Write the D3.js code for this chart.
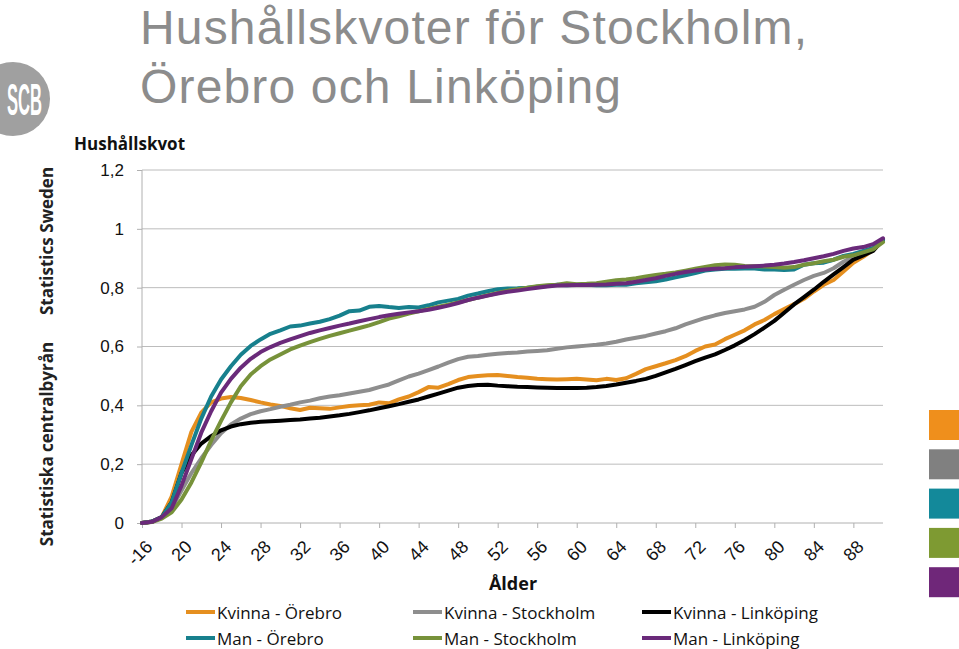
<!DOCTYPE html>
<html>
<head>
<meta charset="utf-8">
<title>Hushållskvoter</title>
<script src="https://cdn.jsdelivr.net/npm/d3@7"></script>
<style>
html, body {
  margin: 0;
  padding: 0;
  background: #ffffff;
}
svg {
  display: block;
  font-family: "Open Sans", "Noto Sans", sans-serif;
}
.title {
  font-family: "Liberation Sans", Arial, sans-serif;
  fill: #8c8c8c;
  font-size: 48px;
}
.axis text {
  font-size: 17px;
  fill: #111;
}
.grid line {
  stroke: #bcbcbc;
  stroke-width: 1px;
}
.series {
  fill: none;
  stroke-width: 4px;
  stroke-linejoin: round;
  stroke-linecap: round;
}
</style>
</head>
<body>
<svg width="959" height="649"></svg>
<script>
// categories: first is "-16", then every age up to 91
var ages = ["-16"].concat(d3.range(17, 92).map(String));
var tickLabels = ["-16", "20", "24", "28", "32", "36", "40", "44", "48", "52", "56", "60", "64", "68", "72", "76", "80", "84", "88"];
var yTicks = [0, 0.2, 0.4, 0.6, 0.8, 1, 1.2];

var seriesNames = ["Kvinna - Örebro", "Kvinna - Stockholm", "Kvinna - Linköping",
                   "Man - Örebro", "Man - Stockholm", "Man - Linköping"];
var seriesColors = ["#e58f1f", "#8e8e8e", "#000000", "#17808d", "#77923a", "#6a2a7a"];

var kvinnaOrebro = [0,
  0.005, 0.02, 0.09, 0.2, 0.31, 0.375, 0.41, 0.423, 0.428, 0.425,
  0.418, 0.41, 0.403, 0.398, 0.39, 0.384, 0.392, 0.39, 0.388, 0.393,
  0.398, 0.4, 0.402, 0.41, 0.407, 0.42, 0.43, 0.445, 0.462, 0.46,
  0.472, 0.486, 0.496, 0.5, 0.502, 0.503, 0.5, 0.496, 0.494, 0.49,
  0.489, 0.488, 0.489, 0.49, 0.488, 0.485, 0.49, 0.486, 0.492, 0.507,
  0.523, 0.533, 0.543, 0.554, 0.567, 0.585, 0.6, 0.607, 0.625, 0.64,
  0.655, 0.675, 0.69, 0.71, 0.727, 0.744, 0.762, 0.787, 0.81, 0.826,
  0.855, 0.885, 0.905, 0.928, 0.96];
var kvinnaStockholm = [0,
  0.005, 0.018, 0.05, 0.11, 0.17, 0.22, 0.265, 0.305, 0.335, 0.355,
  0.37, 0.38, 0.387, 0.395, 0.402, 0.41, 0.416, 0.424, 0.43, 0.434,
  0.44, 0.446, 0.452, 0.462, 0.471, 0.485, 0.498, 0.508, 0.52, 0.532,
  0.545, 0.557, 0.565, 0.568, 0.572, 0.575, 0.578, 0.58, 0.583, 0.585,
  0.587, 0.592, 0.597, 0.6, 0.603, 0.606, 0.61, 0.616, 0.624, 0.63,
  0.636, 0.644, 0.652, 0.662, 0.675, 0.686, 0.697, 0.706, 0.714, 0.72,
  0.726, 0.735, 0.752, 0.775, 0.793, 0.81, 0.826, 0.84, 0.85, 0.866,
  0.888, 0.905, 0.918, 0.932, 0.958];
var kvinnaLinkoping = [0,
  0.004, 0.02, 0.07, 0.17, 0.23, 0.27, 0.295, 0.315, 0.328, 0.336,
  0.341, 0.344, 0.346, 0.348, 0.35, 0.352, 0.355, 0.358, 0.362, 0.366,
  0.371, 0.377, 0.383, 0.39, 0.397, 0.404, 0.412, 0.42, 0.43, 0.44,
  0.45, 0.46, 0.466, 0.469, 0.47, 0.467, 0.465, 0.463, 0.462, 0.461,
  0.46, 0.459, 0.459, 0.459, 0.46, 0.462, 0.466, 0.471, 0.477, 0.483,
  0.49, 0.5, 0.512, 0.524, 0.537, 0.55, 0.562, 0.573, 0.588, 0.604,
  0.622, 0.642, 0.664, 0.687, 0.715, 0.743, 0.768, 0.793, 0.82, 0.845,
  0.87, 0.895, 0.91, 0.925, 0.963];
var manOrebro = [0,
  0.005, 0.02, 0.07, 0.17, 0.265, 0.355, 0.43, 0.488, 0.533, 0.572,
  0.602, 0.624, 0.643, 0.655, 0.668, 0.671, 0.678, 0.684, 0.693, 0.705,
  0.72, 0.722, 0.735, 0.738, 0.734, 0.731, 0.734, 0.733, 0.74, 0.75,
  0.756, 0.762, 0.773, 0.78, 0.788, 0.795, 0.797, 0.798, 0.8, 0.803,
  0.806, 0.81, 0.808, 0.81, 0.81, 0.808, 0.808, 0.81, 0.81, 0.815,
  0.818, 0.822, 0.828, 0.835, 0.842, 0.85, 0.858, 0.862, 0.864, 0.864,
  0.865, 0.865, 0.862, 0.862, 0.86, 0.862, 0.878, 0.883, 0.885, 0.895,
  0.908, 0.915, 0.925, 0.935, 0.962];
var manStockholm = [0,
  0.003, 0.015, 0.036, 0.08, 0.138, 0.206, 0.28, 0.347, 0.41, 0.465,
  0.505, 0.533, 0.556, 0.573, 0.59, 0.603, 0.615, 0.626, 0.636, 0.645,
  0.654, 0.663, 0.672, 0.683, 0.695, 0.703, 0.712, 0.72, 0.728, 0.735,
  0.742, 0.75, 0.758, 0.766, 0.774, 0.782, 0.79, 0.795, 0.8, 0.805,
  0.808, 0.81, 0.815, 0.812, 0.813, 0.815, 0.82, 0.825, 0.828, 0.832,
  0.838, 0.843, 0.847, 0.852, 0.858, 0.864, 0.87, 0.876, 0.879, 0.878,
  0.874, 0.873, 0.872, 0.87, 0.868, 0.87, 0.878, 0.883, 0.89, 0.895,
  0.905, 0.91, 0.92, 0.93, 0.955];
var manLinkoping = [0,
  0.004, 0.02, 0.05, 0.127, 0.217, 0.307, 0.38, 0.443, 0.49, 0.528,
  0.558, 0.581, 0.598, 0.612, 0.624, 0.635, 0.646, 0.655, 0.663, 0.671,
  0.678, 0.686, 0.693, 0.7, 0.706, 0.711, 0.716, 0.72, 0.725, 0.732,
  0.739, 0.748, 0.758, 0.766, 0.773, 0.78, 0.786, 0.79, 0.795, 0.8,
  0.804, 0.807, 0.808, 0.809, 0.809, 0.81, 0.811, 0.813, 0.815, 0.82,
  0.826, 0.832, 0.84, 0.847, 0.853, 0.858, 0.862, 0.864, 0.866, 0.869,
  0.871, 0.873, 0.875, 0.878, 0.882, 0.887, 0.893, 0.9, 0.907, 0.915,
  0.925, 0.933, 0.938, 0.948, 0.968];

var seriesValues = [kvinnaOrebro, kvinnaStockholm, kvinnaLinkoping, manOrebro, manStockholm, manLinkoping];

// colour blocks at the right edge of the slide
var blockColors = ["#ef8f1c", "#808080", "#13899a", "#7e9a32", "#6f2779"];

var svg = d3.select("svg");

// title, stretched a little to the width of the original
svg.append("text").attr("class", "title").attr("x", 140).attr("y", 44)
  .attr("textLength", 667).attr("lengthAdjust", "spacing")
  .text("Hushållskvoter för Stockholm,");
svg.append("text").attr("class", "title").attr("x", 140).attr("y", 103)
  .attr("textLength", 481).attr("lengthAdjust", "spacing")
  .text("Örebro och Linköping");

// SCB logo
svg.append("circle").attr("cx", 13).attr("cy", 99).attr("r", 37).attr("fill", "#a0a0a0");
svg.append("text")
  .attr("x", 7).attr("y", 115)
  .attr("textLength", 35).attr("lengthAdjust", "spacingAndGlyphs")
  .style("font-family", "'Liberation Sans Narrow', 'Liberation Sans', sans-serif")
  .style("font-size", "44px").style("font-weight", "bold")
  .attr("fill", "#ffffff")
  .text("SCB");

// vertical side text
svg.append("text")
  .attr("transform", "translate(53,444) rotate(-90)")
  .attr("text-anchor", "middle")
  .style("font-size", "17px").style("font-weight", "bold").attr("fill", "#222")
  .text("Statistiska centralbyrån");
svg.append("text")
  .attr("transform", "translate(53,241) rotate(-90)")
  .attr("text-anchor", "middle")
  .style("font-size", "17px").style("font-weight", "bold").attr("fill", "#222")
  .text("Statistics Sweden");

// colour blocks
svg.selectAll("rect.block")
  .data(blockColors)
  .enter().append("rect")
    .attr("class", "block")
    .attr("x", 929)
    .attr("y", function(d, i) { return 410 + i * 39.3; })
    .attr("width", 32)
    .attr("height", 30)
    .attr("fill", function(d) { return d; });

var x = d3.scalePoint().domain(ages).range([142, 883]);
var y = d3.scaleLinear().domain([0, 1.2]).range([523, 170]);

// gridlines
svg.append("g").attr("class", "grid")
  .selectAll("line")
  .data(yTicks.slice(1))
  .enter().append("line")
    .attr("x1", 142).attr("x2", 883)
    .attr("y1", function(d) { return y(d); })
    .attr("y2", function(d) { return y(d); });

// y axis
var yAxis = svg.append("g").attr("class", "axis")
  .attr("transform", "translate(142,0)")
  .call(d3.axisLeft(y).tickValues(yTicks).tickSize(5).tickPadding(13)
    .tickFormat(function(d) { return d3.format("~g")(d).replace(".", ","); }));
yAxis.selectAll("line, path").attr("stroke", "#b0b0b0");
yAxis.select(".domain").attr("d", "M0," + y(1.2) + "V" + y(0));

// x axis
var xAxis = svg.append("g").attr("class", "axis")
  .attr("transform", "translate(0,523)")
  .call(d3.axisBottom(x).tickValues(tickLabels).tickSize(5).tickSizeOuter(0));
xAxis.selectAll("line, path").attr("stroke", "#b0b0b0");
xAxis.select(".domain").attr("d", "M142,0H883");
xAxis.selectAll("text")
  .attr("text-anchor", "end")
  .attr("dy", null)
  .attr("y", 0)
  .attr("transform", function() { return "translate(11,25) rotate(-45)"; })
  .style("font-size", "18px");

// axis titles
svg.append("text")
  .attr("x", 74).attr("y", 150)
  .style("font-size", "17px").style("font-weight", "bold").attr("fill", "#111")
  .text("Hushållskvot");
svg.append("text")
  .attr("x", 513).attr("y", 590).attr("text-anchor", "middle")
  .style("font-size", "18px").style("font-weight", "bold").attr("fill", "#111")
  .text("Ålder");

// lines
var line = d3.line()
  .x(function(d, i) { return x(ages[i]); })
  .y(function(d) { return y(d); });

svg.append("g")
  .selectAll("path")
  .data(seriesValues)
  .enter().append("path")
    .attr("class", "series")
    .attr("stroke", function(d, i) { return seriesColors[i]; })
    .attr("d", line);

// legend
var legendX = [186, 413, 642];
var legendY = [612, 638];
var legend = svg.append("g")
  .selectAll("g")
  .data(seriesNames)
  .enter().append("g")
    .attr("transform", function(d, i) {
      return "translate(" + legendX[i % 3] + "," + legendY[Math.floor(i / 3)] + ")";
    });
legend.append("line")
  .attr("x1", 0).attr("x2", 29)
  .attr("stroke-width", 4)
  .attr("stroke", function(d, i) { return seriesColors[i]; });
legend.append("text")
  .attr("x", 31).attr("y", 7)
  .style("font-size", "17px").attr("fill", "#111")
  .text(function(d) { return d; });
</script>
</body>
</html>
